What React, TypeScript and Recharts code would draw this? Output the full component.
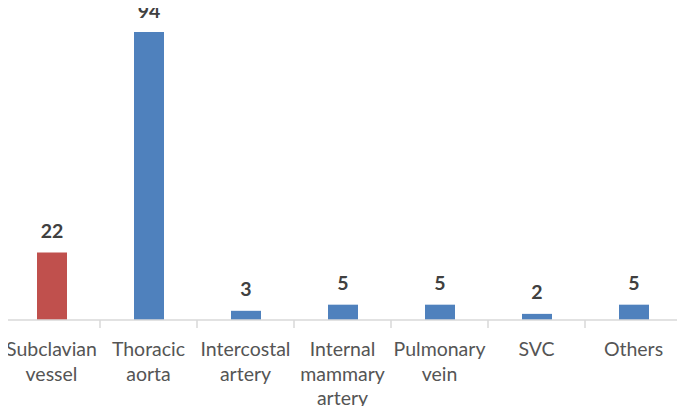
import React from 'react';
import { BarChart, Bar, XAxis, YAxis, Cell, LabelList } from 'recharts';

const categories = ['Subclavian vessel', 'Thoracic aorta', 'Intercostal artery', 'Internal mammary artery', 'Pulmonary vein', 'SVC', 'Others'];
const tickLines: string[][] = [
  ['Subclavian', 'vessel'],
  ['Thoracic', 'aorta'],
  ['Intercostal', 'artery'],
  ['Internal', 'mammary', 'artery'],
  ['Pulmonary', 'vein'],
  ['SVC'],
  ['Others'],
];
const values = [22, 94, 3, 5, 5, 2, 5];
const colors = ['#C0504D', '#4F81BD', '#4F81BD', '#4F81BD', '#4F81BD', '#4F81BD', '#4F81BD'];

const data = categories.map((c, i) => ({ name: c, value: values[i] }));
const AXIS_Y = 320;

const CatTick = (props: any) => {
  const { x, payload } = props;
  const half = payload.offset || 0;
  const lines = tickLines[payload.index] || [payload.value];
  const last = payload.index === categories.length - 1;
  return (
    <g>
      <line x1={x - half} x2={x - half} y1={AXIS_Y} y2={AXIS_Y + 8} stroke="#D9D9D9" strokeWidth={1.5} />
      {last && <line x1={x + half} x2={x + half} y1={AXIS_Y} y2={AXIS_Y + 8} stroke="#D9D9D9" strokeWidth={1.5} />}
      <text x={x} y={AXIS_Y} textAnchor="middle" fill="#555555" fontSize={19.5} fontFamily="Lato, sans-serif">
        {lines.map((l, i) => (
          <tspan key={i} x={x} dy={i === 0 ? 36 : 24.5}>{l}</tspan>
        ))}
      </text>
    </g>
  );
};

const ValueLabel = (props: any) => {
  const { x, y, width, value } = props;
  return (
    <text x={Number(x) + Number(width) / 2} y={Number(y) - 14.5} textAnchor="middle" fill="#404040" fontSize={19.5} fontWeight="bold" fontFamily="Lato, sans-serif">
      {value}
    </text>
  );
};

export default function App() {
  return (
    <div style={{ margin: -8, width: 685, height: 414, background: '#fff' }}>
      <BarChart width={685} height={414} data={data} margin={{ top: 32, right: 3, left: 3, bottom: 93 }} barCategoryGap={0}>
        <XAxis dataKey="name" axisLine={{ stroke: '#D9D9D9', strokeWidth: 1.5 }} tickLine={false} tick={<CatTick />} interval={0} height={1} />
        <YAxis hide domain={[0, 94]} />
        <Bar dataKey="value" barSize={30} isAnimationActive={false}>
          {data.map((d, i) => (
            <Cell key={i} fill={colors[i]} />
          ))}
          <LabelList dataKey="value" content={<ValueLabel />} />
        </Bar>
      </BarChart>
    </div>
  );
}
